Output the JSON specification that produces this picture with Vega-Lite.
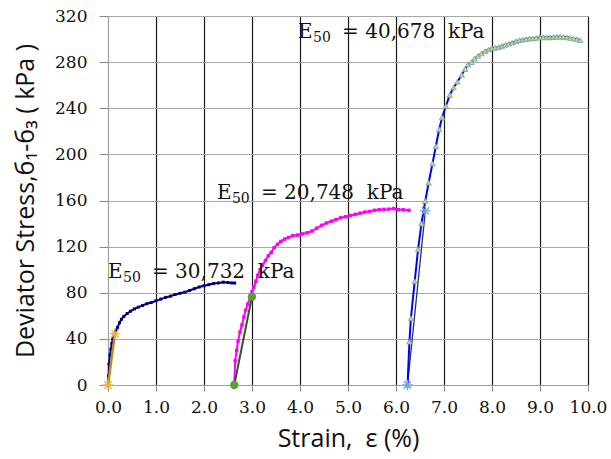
{
  "$schema": "https://vega.github.io/schema/vega-lite/v6.json",
  "width": 480,
  "height": 369,
  "autosize": {"type": "none"},
  "padding": {"left": 108, "top": 16, "right": 23, "bottom": 74},
  "background": "white",
  "config": {"view": {"stroke": null}},
  "data": {
    "values": [
      {"series": "A", "strain": 0.00, "stress": 0},
      {"series": "A", "strain": 0.01, "stress": 8},
      {"series": "A", "strain": 0.02, "stress": 18},
      {"series": "A", "strain": 0.04, "stress": 26},
      {"series": "A", "strain": 0.06, "stress": 31},
      {"series": "A", "strain": 0.08, "stress": 36},
      {"series": "A", "strain": 0.10, "stress": 40},
      {"series": "A", "strain": 0.13, "stress": 44},
      {"series": "A", "strain": 0.16, "stress": 47},
      {"series": "A", "strain": 0.20, "stress": 50},
      {"series": "A", "strain": 0.24, "stress": 54},
      {"series": "A", "strain": 0.28, "stress": 57},
      {"series": "A", "strain": 0.33, "stress": 59.5},
      {"series": "A", "strain": 0.40, "stress": 62},
      {"series": "A", "strain": 0.47, "stress": 64},
      {"series": "A", "strain": 0.55, "stress": 66},
      {"series": "A", "strain": 0.63, "stress": 67.5},
      {"series": "A", "strain": 0.72, "stress": 69},
      {"series": "A", "strain": 0.81, "stress": 70.5},
      {"series": "A", "strain": 0.90, "stress": 71.5},
      {"series": "A", "strain": 1.00, "stress": 73},
      {"series": "A", "strain": 1.10, "stress": 74.5},
      {"series": "A", "strain": 1.20, "stress": 76},
      {"series": "A", "strain": 1.30, "stress": 77},
      {"series": "A", "strain": 1.40, "stress": 78.5},
      {"series": "A", "strain": 1.50, "stress": 79.5},
      {"series": "A", "strain": 1.60, "stress": 80.5},
      {"series": "A", "strain": 1.70, "stress": 82},
      {"series": "A", "strain": 1.80, "stress": 83.5},
      {"series": "A", "strain": 1.90, "stress": 85},
      {"series": "A", "strain": 2.00, "stress": 86},
      {"series": "A", "strain": 2.10, "stress": 87},
      {"series": "A", "strain": 2.20, "stress": 88},
      {"series": "A", "strain": 2.30, "stress": 88.5},
      {"series": "A", "strain": 2.40, "stress": 89.2},
      {"series": "A", "strain": 2.50, "stress": 88.8},
      {"series": "A", "strain": 2.58, "stress": 88.5},
      {"series": "A", "strain": 2.64, "stress": 88.4},

      {"series": "B", "strain": 2.63, "stress": 0},
      {"series": "B", "strain": 2.65, "stress": 21},
      {"series": "B", "strain": 2.68, "stress": 30},
      {"series": "B", "strain": 2.71, "stress": 38},
      {"series": "B", "strain": 2.75, "stress": 46},
      {"series": "B", "strain": 2.79, "stress": 52},
      {"series": "B", "strain": 2.83, "stress": 59},
      {"series": "B", "strain": 2.87, "stress": 65},
      {"series": "B", "strain": 2.91, "stress": 70},
      {"series": "B", "strain": 2.96, "stress": 76},
      {"series": "B", "strain": 3.00, "stress": 81},
      {"series": "B", "strain": 3.04, "stress": 85},
      {"series": "B", "strain": 3.08, "stress": 90},
      {"series": "B", "strain": 3.12, "stress": 95},
      {"series": "B", "strain": 3.17, "stress": 100},
      {"series": "B", "strain": 3.22, "stress": 104},
      {"series": "B", "strain": 3.28, "stress": 108},
      {"series": "B", "strain": 3.34, "stress": 112},
      {"series": "B", "strain": 3.40, "stress": 115},
      {"series": "B", "strain": 3.46, "stress": 119},
      {"series": "B", "strain": 3.53, "stress": 122},
      {"series": "B", "strain": 3.60, "stress": 124.5},
      {"series": "B", "strain": 3.68, "stress": 126.5},
      {"series": "B", "strain": 3.76, "stress": 128},
      {"series": "B", "strain": 3.85, "stress": 129.5},
      {"series": "B", "strain": 3.95, "stress": 130},
      {"series": "B", "strain": 4.05, "stress": 131},
      {"series": "B", "strain": 4.15, "stress": 132},
      {"series": "B", "strain": 4.25, "stress": 133.5},
      {"series": "B", "strain": 4.35, "stress": 136},
      {"series": "B", "strain": 4.45, "stress": 138.5},
      {"series": "B", "strain": 4.55, "stress": 140.5},
      {"series": "B", "strain": 4.65, "stress": 142},
      {"series": "B", "strain": 4.75, "stress": 143.5},
      {"series": "B", "strain": 4.85, "stress": 145},
      {"series": "B", "strain": 4.95, "stress": 146},
      {"series": "B", "strain": 5.05, "stress": 147},
      {"series": "B", "strain": 5.15, "stress": 148},
      {"series": "B", "strain": 5.25, "stress": 149},
      {"series": "B", "strain": 5.35, "stress": 150},
      {"series": "B", "strain": 5.45, "stress": 150.5},
      {"series": "B", "strain": 5.55, "stress": 151.5},
      {"series": "B", "strain": 5.65, "stress": 152},
      {"series": "B", "strain": 5.75, "stress": 152.3},
      {"series": "B", "strain": 5.85, "stress": 152.5},
      {"series": "B", "strain": 5.95, "stress": 153},
      {"series": "B", "strain": 6.05, "stress": 152},
      {"series": "B", "strain": 6.15, "stress": 152},
      {"series": "B", "strain": 6.27, "stress": 151.5},

      {"series": "C", "strain": 6.24, "stress": 0},
      {"series": "C", "strain": 6.28, "stress": 37.6},
      {"series": "C", "strain": 6.31, "stress": 57.8},
      {"series": "C", "strain": 6.39, "stress": 90},
      {"series": "C", "strain": 6.46, "stress": 117.7},
      {"series": "C", "strain": 6.53, "stress": 140},
      {"series": "C", "strain": 6.61, "stress": 159.6},
      {"series": "C", "strain": 6.68, "stress": 175.4},
      {"series": "C", "strain": 6.76, "stress": 192},
      {"series": "C", "strain": 6.83, "stress": 207},
      {"series": "C", "strain": 6.90, "stress": 221.7},
      {"series": "C", "strain": 6.96, "stress": 232},
      {"series": "C", "strain": 7.04, "stress": 242},
      {"series": "C", "strain": 7.12, "stress": 251.5},
      {"series": "C", "strain": 7.20, "stress": 258},
      {"series": "C", "strain": 7.28, "stress": 263},
      {"series": "C", "strain": 7.37, "stress": 269},
      {"series": "C", "strain": 7.44, "stress": 274},
      {"series": "C", "strain": 7.50, "stress": 278},
      {"series": "C", "strain": 7.57, "stress": 280},
      {"series": "C", "strain": 7.64, "stress": 283},
      {"series": "C", "strain": 7.71, "stress": 285.5},
      {"series": "C", "strain": 7.78, "stress": 287.5},
      {"series": "C", "strain": 7.86, "stress": 289.5},
      {"series": "C", "strain": 7.93, "stress": 291},
      {"series": "C", "strain": 8.00, "stress": 292},
      {"series": "C", "strain": 8.07, "stress": 292.5},
      {"series": "C", "strain": 8.14, "stress": 293},
      {"series": "C", "strain": 8.21, "stress": 294},
      {"series": "C", "strain": 8.28, "stress": 295},
      {"series": "C", "strain": 8.35, "stress": 296},
      {"series": "C", "strain": 8.42, "stress": 297},
      {"series": "C", "strain": 8.50, "stress": 298},
      {"series": "C", "strain": 8.57, "stress": 299},
      {"series": "C", "strain": 8.64, "stress": 299.5},
      {"series": "C", "strain": 8.71, "stress": 300},
      {"series": "C", "strain": 8.78, "stress": 300.5},
      {"series": "C", "strain": 8.85, "stress": 300.5},
      {"series": "C", "strain": 8.92, "stress": 301},
      {"series": "C", "strain": 9.00, "stress": 301.5},
      {"series": "C", "strain": 9.07, "stress": 301.5},
      {"series": "C", "strain": 9.14, "stress": 301.5},
      {"series": "C", "strain": 9.21, "stress": 301.5},
      {"series": "C", "strain": 9.28, "stress": 301.8},
      {"series": "C", "strain": 9.35, "stress": 302},
      {"series": "C", "strain": 9.42, "stress": 302},
      {"series": "C", "strain": 9.49, "stress": 301.8},
      {"series": "C", "strain": 9.56, "stress": 301.5},
      {"series": "C", "strain": 9.63, "stress": 301},
      {"series": "C", "strain": 9.70, "stress": 300.5},
      {"series": "C", "strain": 9.77, "stress": 299.8},
      {"series": "C", "strain": 9.84, "stress": 299},

      {"series": "SA", "strain": 0.0, "stress": 0},
      {"series": "SA", "strain": 0.1445, "stress": 44.4},
      {"series": "SB", "strain": 2.63, "stress": 0},
      {"series": "SB", "strain": 2.9987, "stress": 76.5},
      {"series": "SC", "strain": 6.24, "stress": 0},
      {"series": "SC", "strain": 6.6112, "stress": 151},

      {"series": "label", "strain": 0.0, "stress": 92.5, "label": "= 30,732\u00a0 kPa"},
      {"series": "label", "strain": 2.27, "stress": 161, "label": "= 20,748\u00a0 kPa"},
      {"series": "label", "strain": 3.96, "stress": 300.7, "label": "= 40,678\u00a0 kPa"}
    ]
  },
  "encoding": {
    "x": {
      "field": "strain",
      "type": "quantitative",
      "scale": {"domain": [0, 10], "nice": false, "zero": false},
      "axis": {
        "values": [0, 1, 2, 3, 4, 5, 6, 7, 8, 9, 10],
        "format": ".1f",
        "grid": true,
        "gridColor": {"condition": {"test": "datum.value === 0", "value": "#a0a0a0"}, "value": "#1a1a1a"},
        "gridWidth": 1.2,
        "domainColor": "#a0a0a0",
        "tickColor": "#888888",
        "tickSize": 6,
        "labelFont": "DejaVu Serif",
        "labelFontSize": 17,
        "labelColor": "#111111",
        "labelPadding": 8,
        "labelFlush": false,
        "labelOverlap": false,
        "title": "Strain,\u00a0 ε (%)",
        "titleFont": "Open Sans",
        "titleFontSize": 25,
        "titleFontWeight": "normal",
        "titleColor": "#111111",
        "titlePadding": 11
      }
    },
    "y": {
      "field": "stress",
      "type": "quantitative",
      "scale": {"domain": [0, 320], "nice": false},
      "axis": {
        "values": [0, 40, 80, 120, 160, 200, 240, 280, 320],
        "grid": true,
        "gridColor": "#a8a8a8",
        "gridWidth": 1,
        "domainColor": "#a0a0a0",
        "tickColor": "#888888",
        "tickSize": 9,
        "labelFont": "DejaVu Serif",
        "labelFontSize": 17,
        "labelColor": "#111111",
        "labelPadding": 12,
        "labelFlush": false,
        "labelOverlap": false,
        "title": "Deviator Stress,б₁-б₃ ( kPa )",
        "titleFont": "Open Sans",
        "titleFontSize": 25,
        "titleFontWeight": "normal",
        "titleColor": "#111111",
        "titlePadding": 16
      }
    }
  },
  "layer": [
    {
      "transform": [{"filter": "datum.series === 'A'"}],
      "mark": {"type": "line", "color": "#000080", "strokeWidth": 2}
    },
    {
      "transform": [{"filter": "datum.series === 'A'"}],
      "mark": {"type": "point", "shape": "square", "filled": true, "size": 9, "color": "#000080", "opacity": 1}
    },
    {
      "transform": [{"filter": "datum.series === 'B'"}],
      "mark": {"type": "line", "color": "#ff00ff", "strokeWidth": 2}
    },
    {
      "transform": [{"filter": "datum.series === 'B'"}],
      "mark": {"type": "point", "shape": "square", "filled": true, "size": 12, "color": "#ff00ff", "opacity": 1}
    },
    {
      "transform": [{"filter": "datum.series === 'SC'"}],
      "mark": {"type": "line", "color": "#1f2f6a", "strokeWidth": 1.3}
    },
    {
      "transform": [{"filter": "datum.series === 'C'"}],
      "mark": {"type": "line", "color": "#0000ff", "strokeWidth": 2}
    },
    {
      "transform": [{"filter": "datum.series === 'C'"}],
      "mark": {"type": "point", "shape": "triangle-up", "filled": true, "size": 30, "fill": "#c8dc50", "stroke": "#6f9fd8", "strokeWidth": 0.8, "opacity": 1}
    },
    {
      "transform": [{"filter": "datum.series === 'SC'"}],
      "mark": {"type": "point", "shape": "M-1,0L1,0M0,-1L0,1M-0.7,-0.7L0.7,0.7M-0.7,0.7L0.7,-0.7", "filled": false, "size": 110, "stroke": "#7aa6dc", "strokeWidth": 1.3, "opacity": 1}
    },
    {
      "transform": [{"filter": "datum.series === 'SA'"}],
      "mark": {"type": "line", "color": "#c08a1e", "strokeWidth": 2.5}
    },
    {
      "transform": [{"filter": "datum.series === 'SA'"}],
      "mark": {"type": "point", "shape": "M-1,0L1,0M0,-1L0,1M-0.7,-0.7L0.7,0.7M-0.7,0.7L0.7,-0.7", "filled": false, "size": 110, "stroke": "#f0b040", "strokeWidth": 1.3, "opacity": 1}
    },
    {
      "transform": [{"filter": "datum.series === 'SB'"}],
      "mark": {"type": "line", "color": "#2f5a1e", "strokeWidth": 2}
    },
    {
      "transform": [{"filter": "datum.series === 'SB'"}],
      "mark": {"type": "point", "shape": "circle", "filled": true, "size": 70, "color": "#5aa02c", "opacity": 1}
    },
    {
      "transform": [{"filter": "datum.series === 'label'"}],
      "mark": {"type": "text", "text": "E", "font": "DejaVu Serif", "fontSize": 20, "align": "left", "baseline": "alphabetic", "color": "#111111"}
    },
    {
      "transform": [{"filter": "datum.series === 'label'"}],
      "mark": {"type": "text", "text": "50", "font": "DejaVu Serif", "fontSize": 14, "align": "left", "baseline": "alphabetic", "dx": 15, "dy": 4, "color": "#111111"}
    },
    {
      "transform": [{"filter": "datum.series === 'label'"}],
      "mark": {"type": "text", "font": "DejaVu Serif", "fontSize": 20, "align": "left", "baseline": "alphabetic", "dx": 44, "color": "#111111"},
      "encoding": {"text": {"field": "label"}}
    }
  ]
}
